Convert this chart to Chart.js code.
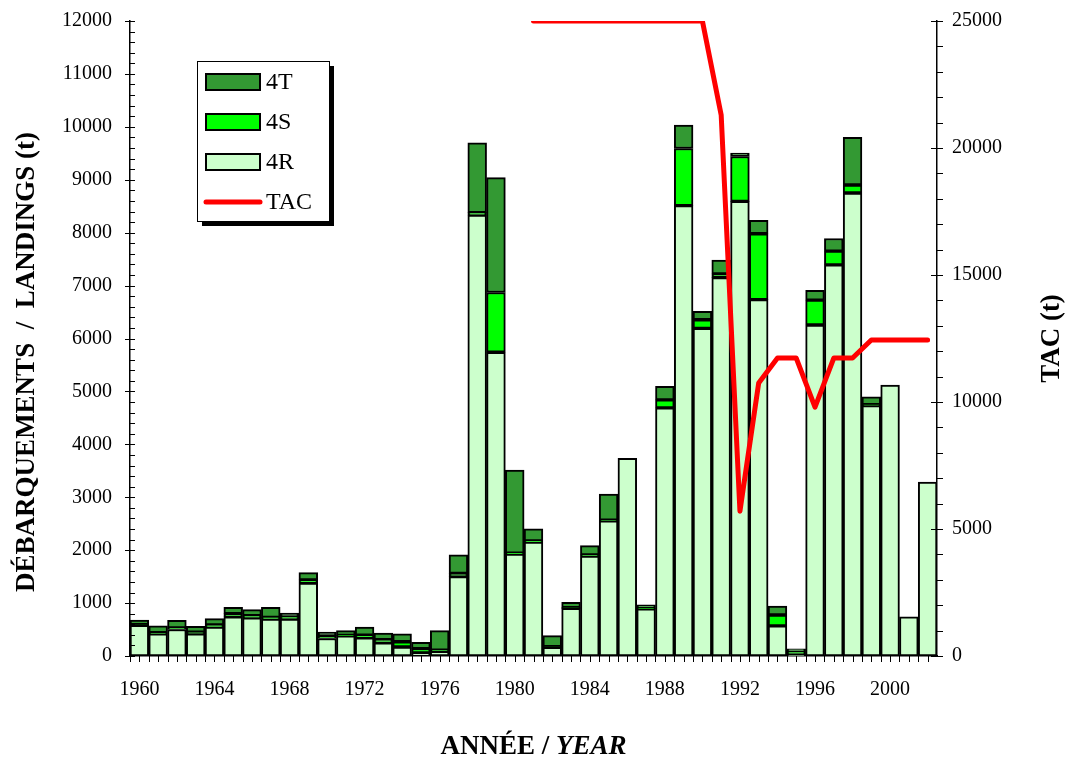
<!DOCTYPE html>
<html>
<head>
<meta charset="utf-8">
<title>Débarquements / Landings</title>
<script src="https://cdn.jsdelivr.net/npm/chart.js@4/dist/chart.umd.min.js"></script>
<style>
html, body { margin: 0; padding: 0; background: #fff; }
#wrap { width: 1070px; height: 760px; }
</style>
</head>
<body>
<div id="wrap"><canvas id="chart" width="1070" height="760"></canvas></div>
<script>
var years = ['1960', '1961', '1962', '1963', '1964', '1965', '1966', '1967', '1968', '1969',
	'1970', '1971', '1972', '1973', '1974', '1975', '1976', '1977', '1978', '1979',
	'1980', '1981', '1982', '1983', '1984', '1985', '1986', '1987', '1988', '1989',
	'1990', '1991', '1992', '1993', '1994', '1995', '1996', '1997', '1998', '1999',
	'2000', '2001', '2002'];
var yearLabels = ['1960', '1964', '1968', '1972', '1976', '1980', '1984', '1988', '1992', '1996', '2000'];

// landings (t) by division
var landings4R = [580, 420, 500, 420, 545, 740, 720, 700, 700, 1380,
	330, 380, 345, 250, 170, 60, 90, 1500, 8330, 5740,
	1925, 2155, 165, 900, 1890, 2555, 3735, 890, 4690, 8510,
	6190, 7150, 8590, 6735, 570, 30, 6255, 7390, 8750, 4730,
	5120, 740, 3285];
var landings4S = [10, 20, 30, 30, 40, 60, 40, 30, 40, 60,
	50, 10, 50, 60, 100, 80, 20, 60, 50, 1130,
	20, 20, 10, 15, 20, 10, 0, 10, 150, 1080,
	165, 70, 850, 1245, 205, 60, 470, 260, 150, 20,
	0, 0, 0];
var landings4T = [90, 130, 145, 110, 120, 120, 115, 190, 70, 135,
	70, 90, 150, 125, 150, 120, 370, 350, 1320, 2170,
	1570, 230, 210, 100, 175, 495, 0, 65, 255, 445,
	160, 260, 65, 255, 170, 45, 185, 240, 900, 150,
	0, 0, 0];
// TAC (t), none before 1981
var tacValues = [null, null, null, null, null, null, null, null, null, null,
	null, null, null, null, null, null, null, null, null, null,
	null, 25000, 25000, 25000, 25000, 25000, 25000, 25000, 25000, 25000,
	25000, 21300, 5700, 10750, 11730, 11730, 9800, 11730, 11730, 12440,
	12440, 12440, 12440];

var serif = "'Liberation Serif', 'Times New Roman', serif";
Chart.defaults.font.family = serif;
Chart.defaults.color = '#000';

function plainNumber(value) {
	return String(value);
}

function fixWidth(w) {
	return function (scale) {
		scale.width = w;
		scale.paddingTop = 0;
		scale.paddingBottom = 0;
	};
}

// small tick marks on the three axes, plus the axis titles
var axisTicks = {
	id: 'axisTicks',
	afterDraw: function (chart) {
		var ctx = chart.ctx;
		var x = chart.scales.x, y = chart.scales.y, y1 = chart.scales.y1;
		var area = chart.chartArea;
		ctx.save();
		ctx.strokeStyle = '#000';
		ctx.lineWidth = 1;
		ctx.beginPath();
		var v, py;
		for (v = 0; v <= 12000; v += 200) {
			py = Math.round(y.getPixelForValue(v)) + 0.5;
			ctx.moveTo(area.left - (v % 1000 === 0 ? 5 : 0), py);
			ctx.lineTo(area.left + 5, py);
		}
		for (v = 0; v <= 25000; v += 1000) {
			py = Math.round(y1.getPixelForValue(v)) + 0.5;
			ctx.moveTo(area.right - (v % 5000 === 0 ? 6 : 0), py);
			ctx.lineTo(area.right + 6, py);
		}
		var half = (x.getPixelForValue(1) - x.getPixelForValue(0)) / 2;
		for (var i = 0; i < years.length; i++) {
			var c = x.getPixelForValue(i);
			var px = Math.round(c) + 0.5;
			ctx.moveTo(px, area.bottom);
			ctx.lineTo(px, area.bottom + 6);
			px = Math.round(c - half) + 0.5;
			ctx.moveTo(px, area.bottom);
			ctx.lineTo(px, area.bottom + 6);
		}
		ctx.stroke();

		ctx.fillStyle = '#000';
		// left / right titles, both read bottom to top
		ctx.font = 'bold 27px ' + serif;
		ctx.textAlign = 'center';
		ctx.textBaseline = 'middle';
		ctx.save();
		ctx.translate(27, 362);
		ctx.rotate(-Math.PI / 2);
		ctx.fillText('DÉBARQUEMENTS  /  LANDINGS (t)', 0, 0);
		ctx.restore();
		ctx.save();
		ctx.translate(1052, (area.top + area.bottom) / 2);
		ctx.rotate(-Math.PI / 2);
		ctx.fillText('TAC (t)', 0, 0);
		ctx.restore();

		// x axis title, mixed roman / italic
		var t1 = 'ANNÉE / ';
		var t2 = 'YEAR';
		ctx.font = 'bold 27px ' + serif;
		var w1 = ctx.measureText(t1).width;
		ctx.font = 'italic bold 27px ' + serif;
		var w2 = ctx.measureText(t2).width;
		var sx = (area.left + area.right) / 2 - (w1 + w2) / 2;
		ctx.textBaseline = 'alphabetic';
		ctx.textAlign = 'left';
		ctx.font = 'bold 27px ' + serif;
		ctx.fillText(t1, sx, 754);
		ctx.font = 'italic bold 27px ' + serif;
		ctx.fillText(t2, sx + w1, 754);
		ctx.restore();
	}
};

// boxed legend with drop shadow
var boxLegend = {
	id: 'boxLegend',
	afterDraw: function (chart) {
		var ctx = chart.ctx;
		var ds = chart.data.datasets;
		var order = [2, 1, 0, 3];
		var bx = 197, by = 61, bw = 132, bh = 160;
		ctx.save();
		ctx.fillStyle = '#000';
		ctx.fillRect(bx + 5, by + 5, bw, bh);
		ctx.fillStyle = '#fff';
		ctx.fillRect(bx, by, bw, bh);
		ctx.strokeStyle = '#000';
		ctx.lineWidth = 1;
		ctx.strokeRect(bx + 0.5, by + 0.5, bw, bh);
		ctx.font = '24px ' + serif;
		ctx.textBaseline = 'middle';
		ctx.textAlign = 'left';
		for (var k = 0; k < order.length; k++) {
			var d = ds[order[k]];
			var cy = by + 21 + k * 40;
			if (d.type === 'line') {
				ctx.strokeStyle = d.borderColor;
				ctx.lineWidth = 5;
				ctx.lineCap = 'round';
				ctx.beginPath();
				ctx.moveTo(bx + 9, cy);
				ctx.lineTo(bx + 63, cy);
				ctx.stroke();
			} else {
				ctx.fillStyle = '#000';
				ctx.fillRect(bx + 8, cy - 9, 56, 18);
				ctx.fillStyle = d.backgroundColor;
				ctx.fillRect(bx + 10, cy - 7, 52, 14);
			}
			ctx.fillStyle = '#000';
			ctx.fillText(d.label, bx + 69, cy + 1);
		}
		ctx.restore();
	}
};

var barStyle = { borderColor: '#000', borderWidth: 2, borderSkipped: false, order: 1,
	yAxisID: 'y', barPercentage: 1, categoryPercentage: 1 };

var config = {
	type: 'bar',
	data: {
		labels: years,
		datasets: [
			Object.assign({ label: '4R', data: landings4R, backgroundColor: '#ccffcc' }, barStyle),
			Object.assign({ label: '4S', data: landings4S, backgroundColor: '#00ff00' }, barStyle),
			Object.assign({ label: '4T', data: landings4T, backgroundColor: '#339933' }, barStyle),
			{
				type: 'line',
				label: 'TAC',
				data: tacValues,
				yAxisID: 'y1',
				borderColor: '#ff0000',
				borderWidth: 5,
				borderCapStyle: 'round',
				borderJoinStyle: 'round',
				pointRadius: 0,
				tension: 0,
				fill: false,
				spanGaps: false,
				order: 0
			}
		]
	},
	options: {
		responsive: false,
		animation: false,
		layout: { padding: { top: 21, left: 0, right: 0, bottom: 0 } },
		plugins: {
			legend: { display: false },
			tooltip: { enabled: false }
		},
		scales: {
			x: {
				stacked: true,
				offset: true,
				grid: { display: false, drawTicks: false },
				border: { display: true, color: '#000', width: 1.5 },
				ticks: {
					autoSkip: false,
					maxRotation: 0,
					padding: 22,
					font: { size: 20 },
					color: '#000',
					callback: function (value) {
						var lab = this.getLabelForValue(value);
						return yearLabels.indexOf(lab) >= 0 ? lab : '';
					}
				},
				afterFit: function (scale) { scale.height = 104; }
			},
			y: {
				position: 'left',
				stacked: true,
				min: 0,
				max: 12000,
				grid: { display: false, drawTicks: false },
				border: { display: true, color: '#000', width: 1.5 },
				ticks: { stepSize: 1000, padding: 18, font: { size: 20 }, color: '#000', callback: plainNumber },
				afterFit: fixWidth(130)
			},
			y1: {
				position: 'right',
				min: 0,
				max: 25000,
				grid: { display: false, drawTicks: false },
				border: { display: true, color: '#000', width: 1.5 },
				ticks: { stepSize: 5000, padding: 15, font: { size: 20 }, color: '#000', callback: plainNumber },
				afterFit: fixWidth(133)
			}
		}
	},
	plugins: [axisTicks, boxLegend]
};

var chartctx = document.getElementById('chart').getContext('2d');
window.landingsChart = new Chart(chartctx, config);
</script>
</body>
</html>
